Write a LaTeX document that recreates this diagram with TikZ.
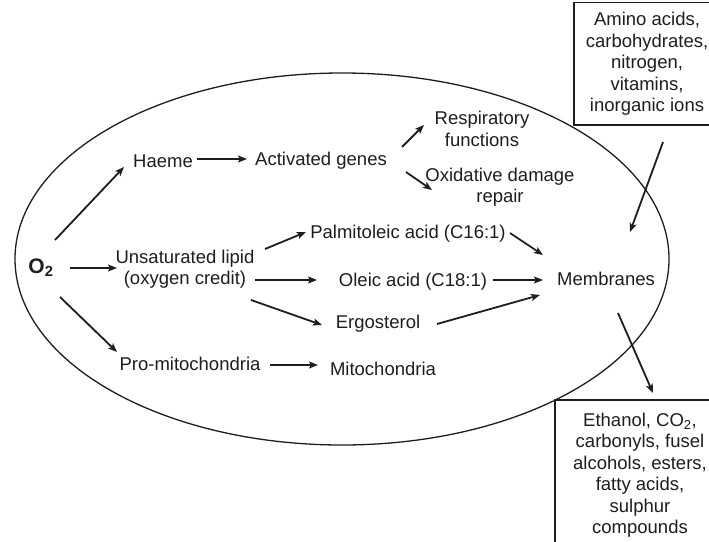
\documentclass[tikz,border=0pt]{standalone}
\usepackage{fontspec}
\setmainfont{Liberation Sans}
\usetikzlibrary{arrows.meta,calc}
\definecolor{ink}{RGB}{30,30,30}
\begin{document}
\begin{tikzpicture}[x=1pt,y=-1pt,
  lbl/.style={inner sep=0pt,text=ink,font=\fontsize{18.5}{21.5}\selectfont,align=center},
  arr/.style={draw=ink,line width=1.8pt,-{Stealth[length=9pt,width=7pt,inset=2pt]}},
  boxline/.style={draw=ink,line width=1.2pt,fill=white}]
\clip (0,0) rectangle (709,541);
\fill[white] (0,0) rectangle (709,541);
% cell ellipse
\draw[ink,line width=1.3pt] (342,259) ellipse [x radius=327, y radius=186];
% boxes
\draw[boxline] (574,2.5) rectangle (716,125);
\draw[boxline] (555,400) rectangle (716,548);
% nodes
\node[lbl,font=\fontsize{21}{24}\selectfont] (o2) at (41,268) {\textbf{O\textsubscript{2}}};
\node[lbl] (haeme) at (163,161) {Haeme};
\node[lbl] (act) at (321,161) {Activated genes};
\node[lbl] (resp) at (482,129) {Respiratory\\functions};
\node[lbl] (oxid) at (500,187) {Oxidative damage\\repair};
\node[lbl] (unsat) at (185,269) {Unsaturated lipid\\(oxygen credit)};
\node[lbl] (palm) at (408,234) {Palmitoleic acid (C16:1)};
\node[lbl] (oleic) at (413,282) {Oleic acid (C18:1)};
\node[lbl] (ergo) at (378,324) {Ergosterol};
\node[lbl] (memb) at (606,279) {Membranes};
\node[lbl] (promito) at (190,364) {Pro-mitochondria};
\node[lbl] (mito) at (383,369) {Mitochondria};
\node[lbl] (inbox) at (647,64) {Amino acids,\\carbohydrates,\\nitrogen,\\vitamins,\\inorganic ions};
\node[lbl] (outbox) at (640,475) {Ethanol, CO\textsubscript{2},\\carbonyls, fusel\\alcohols, esters,\\fatty acids,\\sulphur\\compounds};
% connectors
\draw[arr] ($(o2)+(14,-28)$) -- ($(haeme)+(-39,6)$);
\draw[arr] ($(o2)+(29,0)$) -- ($(unsat)+(-68,-1)$);
\draw[arr] ($(o2)+(19,29)$) -- ($(promito)+(-73,-12)$);
\draw[arr] ($(haeme)+(34,-2)$) -- ($(act)+(-74,-2)$);
\draw[arr] ($(act)+(81,-14)$) -- ($(resp)+(-58,-4)$);
\draw[arr] ($(act)+(85,11)$) -- ($(oxid)+(-68,3)$);
\draw[arr] ($(unsat)+(80,-20)$) -- ($(palm)+(-102,-2)$);
\draw[arr] ($(unsat)+(70,11)$) -- ($(oleic)+(-96,-2)$);
\draw[arr] ($(unsat)+(66,31)$) -- ($(ergo)+(-56,1)$);
\draw[arr] ($(palm)+(102,-1)$) -- ($(memb)+(-63,-24)$);
\draw[arr] ($(oleic)+(80,-2)$) -- ($(memb)+(-63,1)$);
\draw[arr] ($(ergo)+(59,0)$) -- ($(memb)+(-66,16)$);
\draw[arr] ($(promito)+(80,1)$) -- ($(mito)+(-65,-4)$);
\draw[arr] ($(inbox)+(16,78)$) -- ($(memb)+(24,-47)$);
\draw[arr] ($(memb)+(12,34)$) -- ($(outbox)+(13,-82)$);
\end{tikzpicture}
\end{document}
